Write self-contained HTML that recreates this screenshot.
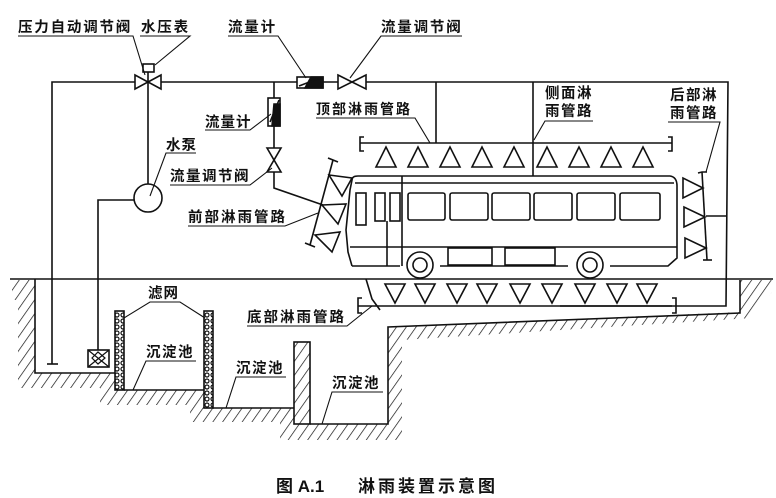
<!DOCTYPE html>
<html><head><meta charset="utf-8"><style>
html,body{margin:0;padding:0;background:#fff;}
svg{display:block;}
text{font-family:"Liberation Sans","Noto Sans CJK SC",sans-serif;font-weight:bold;fill:#111;}
</style></head><body>
<svg width="776" height="498" viewBox="0 0 776 498" xmlns="http://www.w3.org/2000/svg">
<defs>
<pattern id="h" width="8" height="8" patternUnits="userSpaceOnUse" patternTransform="rotate(35)">
<line x1="0" y1="0" x2="0" y2="8" stroke="#111" stroke-width="1.4"/>
</pattern>
<pattern id="x" width="6" height="6" patternUnits="userSpaceOnUse">
<rect width="6" height="6" fill="#fff"/><circle cx="3" cy="3" r="2" fill="none" stroke="#111" stroke-width="1.2"/>
</pattern>
</defs>
<g stroke="#111" stroke-width="1.6" fill="none">
<polygon fill="url(#h)" stroke="none" points="12,280 35,280 35,373 115,373 115,390 204,390 204,408 294,408 294,424 388,424 388,327 740,312 740,280 772,280 772,292 752,318 402,340 402,440 280,440 280,422 190,422 190,405 100,405 100,388 18,388 18,300 12,300"/>
<polyline points="10,279 773,279"/>
<polyline points="35,279 35,373 115,373"/>
<polyline points="124,390 204,390"/>
<polyline points="213,408 294,408"/>
<polyline points="310,424 388,424 388,327 740,313 740,280"/>
<polyline points="366,279 372,299 380,310"/>
<rect x="294" y="342" width="16" height="82" fill="url(#h)"/>
<rect x="115" y="311" width="9" height="79" fill="url(#x)"/>
<rect x="204" y="311" width="9" height="97" fill="url(#x)"/>
<polyline points="52,364 52,82 728,82 726,306 560,306 560,306"/>
<line x1="47" y1="364" x2="58" y2="364"/>
<line x1="358" y1="306" x2="672" y2="306"/>
<polyline points="362,298 358,298 358,313 362,313"/>
<polyline points="672,298 676,298 676,313 672,313"/>
<line x1="148" y1="82" x2="148" y2="184"/>
<circle cx="148" cy="198" r="14" fill="#fff"/>
<polyline points="134,200 98,200 98,350"/>
<rect x="88" y="350" width="21" height="17" fill="#fff"/>
<path d="M88,350 L109,367 M109,350 L88,367 M92,358 L98,352 L105,358 L98,364 Z" stroke-width="1.2"/>
<path d="M135,75 L148,82 L135,89 Z M161,75 L148,82 L161,89 Z" fill="#fff"/>
<rect x="143" y="64" width="11" height="8" fill="#fff"/>
<line x1="148" y1="72" x2="148" y2="82"/>
<rect x="297" y="77" width="26" height="11" fill="#fff"/>
<path d="M311,77 L323,77 L323,88 L305,88 Z" fill="#111"/>
<line x1="299" y1="86" x2="320" y2="78"/>
<path d="M338,75 L352,82 L338,89 Z M366,75 L352,82 L366,89 Z" fill="#fff"/>
<polyline points="274,82 274,188 323,205"/>
<rect x="268" y="98" width="12" height="28" fill="#fff"/>
<path d="M274,104 L280,104 L280,126 L272,126 Z" fill="#111"/>
<line x1="270" y1="122" x2="279" y2="100"/>
<path d="M267,148 L274,160 L281,148 Z M267,172 L274,160 L281,172 Z" fill="#fff"/>
<line x1="436" y1="82" x2="436" y2="143"/>
<line x1="533" y1="82" x2="533" y2="176"/>
<line x1="360" y1="143" x2="672" y2="143"/>
<polyline points="364,137 360,137 360,151 364,151"/>
<polyline points="668,137 672,137 672,151 668,151"/>
<g fill="#fff">
<path d="M386,147 L376,167 L396,167 Z"/><path d="M418,147 L408,167 L428,167 Z"/><path d="M450,147 L440,167 L460,167 Z"/>
<path d="M482,147 L472,167 L492,167 Z"/><path d="M514,147 L504,167 L524,167 Z"/><path d="M547,147 L537,167 L557,167 Z"/>
<path d="M579,147 L569,167 L589,167 Z"/><path d="M611,147 L601,167 L621,167 Z"/><path d="M643,147 L633,167 L653,167 Z"/>
</g>
<g fill="#fff">
<path d="M385,284 L405,284 L395,303 Z"/><path d="M415,284 L435,284 L425,303 Z"/><path d="M447,284 L467,284 L457,303 Z"/>
<path d="M477,284 L497,284 L487,303 Z"/><path d="M510,284 L530,284 L520,303 Z"/><path d="M542,284 L562,284 L552,303 Z"/>
<path d="M575,284 L595,284 L585,303 Z"/><path d="M607,284 L627,284 L617,303 Z"/><path d="M637,284 L657,284 L647,303 Z"/>
</g>
<line x1="702" y1="172" x2="707" y2="260"/>
<polyline points="698,173 702,172 707,172"/>
<polyline points="703,260 707,260 712,260"/>
<line x1="706" y1="216" x2="726" y2="216"/>
<g fill="#fff">
<path d="M683,178 L683,198 L703,188 Z"/><path d="M684,207 L684,227 L705,217 Z"/><path d="M685,238 L685,258 L706,248 Z"/>
</g>
<line x1="333" y1="160" x2="310" y2="245"/>
<polyline points="328,158 333,160 338,162"/>
<polyline points="305,243 310,245 315,247"/>
<g fill="#fff">
<path d="M329,175 L352,178 L342,196 Z"/><path d="M322,205 L346,204 L338,224 Z"/><path d="M315,235 L340,232 L332,252 Z"/>
</g>
<path d="M352,266 L348,252 L346,230 L350,190 L352,180 Q352,176 358,176 L670,176 Q677,177 677,186 L677,258 L668,266 L610,266 M568,266 L440,266 M400,266 L352,266" fill="#fff"/>
<line x1="355" y1="183" x2="674" y2="183"/>
<line x1="350" y1="247" x2="677" y2="247"/>
<g fill="#fff">
<rect x="356" y="193" width="10" height="32"/><rect x="375" y="193" width="10" height="28"/><rect x="390" y="193" width="10" height="28"/>
<rect x="408" y="193" width="37" height="27" rx="2"/><rect x="450" y="193" width="38" height="27" rx="2"/><rect x="492" y="193" width="38" height="27" rx="2"/>
<rect x="534" y="193" width="38" height="27" rx="2"/><rect x="577" y="193" width="38" height="27" rx="2"/><rect x="620" y="193" width="40" height="27" rx="2"/>
<rect x="448" y="248" width="44" height="17"/><rect x="505" y="248" width="50" height="17"/>
</g>
<line x1="387" y1="221" x2="387" y2="266"/>
<line x1="402" y1="176" x2="402" y2="266"/>
<circle cx="420" cy="265" r="13" fill="#fff"/><circle cx="420" cy="265" r="7"/>
<circle cx="590" cy="265" r="13" fill="#fff"/><circle cx="590" cy="265" r="7"/>
<g stroke-width="1.1">
<polyline points="18,36 133,36 145,75"/>
<polyline points="140,36 190,36 155,65"/>
<polyline points="228,36 278,36 306,78"/>
<polyline points="462,36 381,36 350,78"/>
<polyline points="316,118 415,118 430,143"/>
<polyline points="593,121 545,121 534,140"/>
<polyline points="668,122 720,122 706,172"/>
<polyline points="205,130 250,130 271,114"/>
<polyline points="196,153 166,153 150,196"/>
<polyline points="170,185 250,185 272,168"/>
<polyline points="188,226 285,226 318,213"/>
<polyline points="124,318 150,302 180,302 205,318"/>
<polyline points="247,326 347,326 372,306"/>
<polyline points="196,361 146,361 133,390"/>
<polyline points="286,377 236,377 226,408"/>
<polyline points="383,392 332,392 322,424"/>
</g>
</g>
<g font-size="14.5">
<text x="18" y="32" letter-spacing="1.8">压力自动调节阀</text>
<text x="141" y="32" letter-spacing="1.8">水压表</text>
<text x="228" y="32" letter-spacing="1.8">流量计</text>
<text x="381" y="32" letter-spacing="1.8">流量调节阀</text>
<text x="316" y="114" font-size="14" letter-spacing="2">顶部淋雨管路</text>
<text x="545" y="98" letter-spacing="1.5">侧面淋</text>
<text x="545" y="116" letter-spacing="1.5">雨管路</text>
<text x="670" y="100" letter-spacing="1.5">后部淋</text>
<text x="670" y="118" letter-spacing="1.5">雨管路</text>
<text x="205" y="127" letter-spacing="1">流量计</text>
<text x="166" y="150" letter-spacing="1">水泵</text>
<text x="170" y="181" letter-spacing="1.5">流量调节阀</text>
<text x="188" y="222" letter-spacing="2">前部淋雨管路</text>
<text x="148" y="298" letter-spacing="1">滤网</text>
<text x="247" y="322" letter-spacing="2">底部淋雨管路</text>
<text x="146" y="357" letter-spacing="1.5">沉淀池</text>
<text x="236" y="373" letter-spacing="1.5">沉淀池</text>
<text x="332" y="388" letter-spacing="1.5">沉淀池</text>
<text x="276" y="492" font-size="17">图 A.1</text>
<text x="358" y="492" font-size="17" letter-spacing="3">淋雨装置示意图</text>
</g>
</svg>
</body></html>
